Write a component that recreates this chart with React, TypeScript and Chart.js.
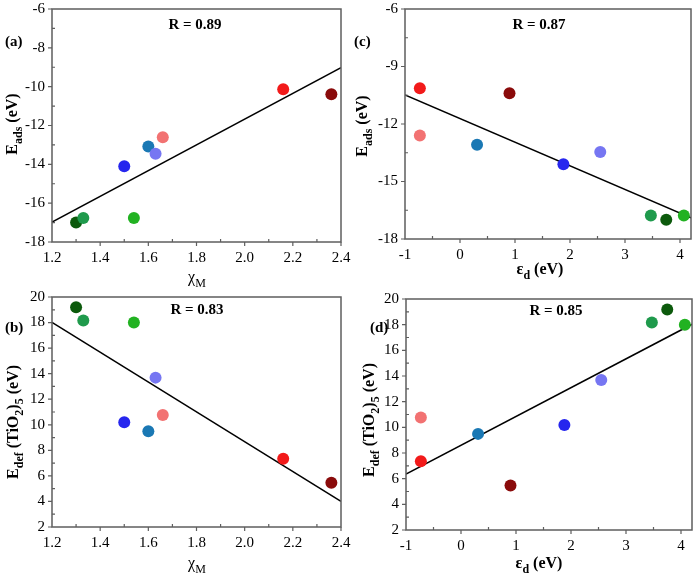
import React, { useEffect, useRef } from "react";
import { Chart, registerables } from "chart.js";

Chart.register(...registerables);

// ---- data (order: dark green, mid green, bright green, blue, teal, light blue, salmon, red, dark red)
const pointColors = ["#0c5a0c", "#1f9a4c", "#22b222", "#2626ee", "#1a78b4", "#7676f2", "#f27272", "#f21a1a", "#8a0b0b"];
const chiM = [1.30, 1.33, 1.54, 1.50, 1.60, 1.63, 1.66, 2.16, 2.36];
const epsD = [3.75, 3.47, 4.07, 1.88, 0.31, 2.55, -0.73, -0.73, 0.90];
const eAds = [-17.0, -16.77, -16.77, -14.1, -13.08, -13.46, -12.6, -10.13, -10.39];
const eDef = [19.19, 18.17, 18.0, 10.19, 9.49, 13.69, 10.76, 7.35, 5.47];

// linear fit end points
const fitAx = [1.2, 2.4];
const fitAy = [-16.97, -9.02];
const fitBx = [1.2, 2.4];
const fitBy = [18.02, 4.01];
const fitCx = [-1, 4.2];
const fitCy = [-10.48, -16.9];
const fitDx = [-1, 4.2];
const fitDy = [6.36, 18.03];

// tick labels
const chiTicks = [1.2, 1.4, 1.6, 1.8, 2.0, 2.2, 2.4];
const epsTicks = [-1, 0, 1, 2, 3, 4];
const adsTicksA = [-18, -16, -14, -12, -10, -8, -6];
const adsTicksC = [-18, -15, -12, -9, -6];
const defTicks = [2, 4, 6, 8, 10, 12, 14, 16, 18, 20];

const rValues = ["R = 0.89", "R = 0.83", "R = 0.87", "R = 0.85"];
const panelTags = ["(a)", "(b)", "(c)", "(d)"];

type Seg = { t: string; sub?: boolean };

const FONT = "'Liberation Serif', 'Times New Roman', serif";

function drawRich(ctx: CanvasRenderingContext2D, segs: Seg[], x: number, y: number, size: number, bold: boolean, rotate: boolean) {
  const b = bold ? "bold " : "";
  const fMain = `${b}${size}px ${FONT}`;
  const fSub = `${b}${Math.round(size * 0.72)}px ${FONT}`;
  let w = 0;
  for (const s of segs) {
    ctx.font = s.sub ? fSub : fMain;
    w += ctx.measureText(s.t).width;
  }
  ctx.save();
  ctx.translate(x, y);
  if (rotate) ctx.rotate(-Math.PI / 2);
  ctx.fillStyle = "#000";
  ctx.textAlign = "left";
  ctx.textBaseline = "alphabetic";
  let cx = -w / 2;
  const base = size * 0.33;
  for (const s of segs) {
    ctx.font = s.sub ? fSub : fMain;
    ctx.fillText(s.t, cx, s.sub ? base + size * 0.28 : base);
    cx += ctx.measureText(s.t).width;
  }
  ctx.restore();
}

interface Spec {
  left: number; top: number; W: number; H: number;
  area: { l: number; t: number; r: number; b: number };
  xs: number[]; ys: number[]; fx: number[]; fy: number[];
  xMin: number; xMax: number; xTicks: number[]; xMinor: number; xDec: number;
  yMin: number; yMax: number; yTicks: number[]; yMinor: number;
  tag: string; tagX: number; tagY: number;
  rText: string; rX: number; rY: number;
  xTitle: Seg[]; xBold: boolean; xTX: number; xTY: number;
  yTitle: Seg[]; yTX: number; yTY: number;
}

const chiTitle: Seg[] = [{ t: "χ" }, { t: "M", sub: true }];
const epsTitle: Seg[] = [{ t: "ε" }, { t: "d", sub: true }, { t: " (eV)" }];
const adsTitle: Seg[] = [{ t: "E" }, { t: "ads", sub: true }, { t: " (eV)" }];
const defTitle: Seg[] = [{ t: "E" }, { t: "def", sub: true }, { t: " (TiO" }, { t: "2", sub: true }, { t: ")" }, { t: "5", sub: true }, { t: " (eV)" }];

const specs: Spec[] = [
  {
    left: 0, top: 0, W: 355, H: 290, area: { l: 52, t: 9, r: 341, b: 242 },
    xs: chiM, ys: eAds, fx: fitAx, fy: fitAy,
    xMin: 1.2, xMax: 2.4, xTicks: chiTicks, xMinor: 0.1, xDec: 1,
    yMin: -18, yMax: -6, yTicks: adsTicksA, yMinor: 1,
    tag: panelTags[0], tagX: 5, tagY: 42, rText: rValues[0], rX: 195, rY: 25,
    xTitle: chiTitle, xBold: false, xTX: 197, xTY: 277,
    yTitle: adsTitle, yTX: 12, yTY: 124,
  },
  {
    left: 0, top: 285, W: 355, H: 290, area: { l: 52, t: 12, r: 341, b: 242 },
    xs: chiM, ys: eDef, fx: fitBx, fy: fitBy,
    xMin: 1.2, xMax: 2.4, xTicks: chiTicks, xMinor: 0.1, xDec: 1,
    yMin: 2, yMax: 20, yTicks: defTicks, yMinor: 1,
    tag: panelTags[1], tagX: 5, tagY: 43, rText: rValues[1], rX: 197, rY: 25,
    xTitle: chiTitle, xBold: false, xTX: 197, xTY: 278,
    yTitle: defTitle, yTX: 13, yTY: 137,
  },
  {
    left: 349, top: 0, W: 349, H: 290, area: { l: 56, t: 9, r: 342, b: 239 },
    xs: epsD, ys: eAds, fx: fitCx, fy: fitCy,
    xMin: -1, xMax: 4.2, xTicks: epsTicks, xMinor: 0.5, xDec: 0,
    yMin: -18, yMax: -6, yTicks: adsTicksC, yMinor: 1.5,
    tag: panelTags[2], tagX: 5, tagY: 42, rText: rValues[2], rX: 190, rY: 25,
    xTitle: epsTitle, xBold: true, xTX: 191, xTY: 269,
    yTitle: adsTitle, yTX: 13, yTY: 126,
  },
  {
    left: 349, top: 285, W: 349, H: 290, area: { l: 57, t: 14, r: 343, b: 245 },
    xs: epsD, ys: eDef, fx: fitDx, fy: fitDy,
    xMin: -1, xMax: 4.2, xTicks: epsTicks, xMinor: 0.5, xDec: 0,
    yMin: 2, yMax: 20, yTicks: defTicks, yMinor: 1,
    tag: panelTags[3], tagX: 21, tagY: 43, rText: rValues[3], rX: 207, rY: 26,
    xTitle: epsTitle, xBold: true, xTX: 190, xTY: 278,
    yTitle: defTitle, yTX: 20, yTY: 135,
  },
];

function Panel({ s }: { s: Spec }) {
  const ref = useRef<HTMLCanvasElement | null>(null);
  useEffect(() => {
    const canvas = ref.current;
    if (!canvas) return;
    const decor = {
      id: "decor",
      afterDatasetsDraw(chart: any) {
        const ctx: CanvasRenderingContext2D = chart.ctx;
        const { left, right, top, bottom } = chart.chartArea;
        const xs = chart.scales.x;
        const ys = chart.scales.y;
        ctx.save();
        ctx.strokeStyle = "#5e5e5e";
        ctx.lineWidth = 1.5;
        ctx.strokeRect(left, top, right - left, bottom - top);
        ctx.lineWidth = 1.2;
        ctx.beginPath();
        const isMajor = (v: number, arr: number[]) => arr.some((t) => Math.abs(t - v) < 1e-6);
        for (let k = 1; ; k++) {
          const vv = Math.round((s.xMin + k * s.xMinor) * 1000) / 1000;
          if (vv > s.xMax + 1e-9) break;
          const px = xs.getPixelForValue(vv);
          if (isMajor(vv, s.xTicks)) { ctx.moveTo(px, bottom); ctx.lineTo(px, bottom + 4); }
          else { ctx.moveTo(px, bottom); ctx.lineTo(px, bottom - 3); }
        }
        for (let k = 0; ; k++) {
          const vv = Math.round((s.yMin + k * s.yMinor) * 1000) / 1000;
          if (vv > s.yMax + 1e-9) break;
          const py = ys.getPixelForValue(vv);
          if (isMajor(vv, s.yTicks)) { ctx.moveTo(left, py); ctx.lineTo(left - 4, py); }
          else { ctx.moveTo(left, py); ctx.lineTo(left + 3, py); }
        }
        ctx.stroke();
        ctx.restore();

        ctx.save();
        ctx.fillStyle = "#000";
        ctx.font = `bold 15px ${FONT}`;
        ctx.textBaseline = "middle";
        ctx.textAlign = "left";
        ctx.fillText(s.tag, s.tagX, s.tagY);
        ctx.textAlign = "center";
        ctx.fillText(s.rText, s.rX, s.rY);
        ctx.restore();

        drawRich(ctx, s.xTitle, s.xTX, s.xTY, 16, s.xBold, false);
        drawRich(ctx, s.yTitle, s.yTX, s.yTY, 16, true, true);
      },
    };
    const pts = s.xs.map((x, i) => ({ x, y: s.ys[i] }));
    const fit = s.fx.map((x, i) => ({ x, y: s.fy[i] }));
    const tickFont = { family: FONT, size: 15 };
    const chart = new Chart(canvas, {
      type: "scatter",
      data: {
        datasets: [
          {
            data: pts,
            pointRadius: 6,
            pointHoverRadius: 6,
            pointBackgroundColor: pointColors,
            pointBorderWidth: 0,
            order: 0,
          } as any,
          {
            data: fit,
            showLine: true,
            borderColor: "#000",
            borderWidth: 1.5,
            pointRadius: 0,
            order: 1,
          } as any,
        ],
      },
      options: {
        responsive: false,
        animation: false,
        devicePixelRatio: 1,
        events: [],
        layout: { padding: { left: 0, top: s.area.t, right: s.W - s.area.r, bottom: 0 } },
        plugins: { legend: { display: false }, tooltip: { enabled: false } },
        scales: {
          x: {
            type: "linear",
            min: s.xMin,
            max: s.xMax,
            grid: { display: false, drawTicks: false },
            border: { display: false },
            ticks: {
              padding: 7,
              color: "#000",
              font: tickFont,
              maxRotation: 0,
              autoSkip: false,
              callback: (v: any) => Number(v).toFixed(s.xDec),
            },
            afterBuildTicks: (sc: any) => {
              sc.ticks = s.xTicks.map((value) => ({ value }));
            },
            afterFit: (sc: any) => {
              sc.height = s.H - s.area.b;
              sc.paddingLeft = 0;
              sc.paddingRight = 0;
            },
          },
          y: {
            type: "linear",
            min: s.yMin,
            max: s.yMax,
            grid: { display: false, drawTicks: false },
            border: { display: false },
            ticks: {
              padding: 7,
              color: "#000",
              font: tickFont,
              autoSkip: false,
              callback: (v: any) => String(Math.round(Number(v))),
            },
            afterBuildTicks: (sc: any) => {
              sc.ticks = s.yTicks.map((value) => ({ value }));
            },
            afterFit: (sc: any) => {
              sc.width = s.area.l;
              sc.paddingTop = 0;
              sc.paddingBottom = 0;
            },
          },
        },
      } as any,
      plugins: [decor],
    });
    return () => chart.destroy();
  }, [s]);
  return (
    <canvas
      ref={ref}
      width={s.W}
      height={s.H}
      style={{ position: "absolute", left: s.left, top: s.top, width: s.W, height: s.H }}
    />
  );
}

export default function App() {
  return (
    <div style={{ position: "absolute", left: 0, top: 0, width: 698, height: 575, background: "#fff", overflow: "hidden" }}>
      {specs.map((s, i) => (
        <Panel key={i} s={s} />
      ))}
    </div>
  );
}
